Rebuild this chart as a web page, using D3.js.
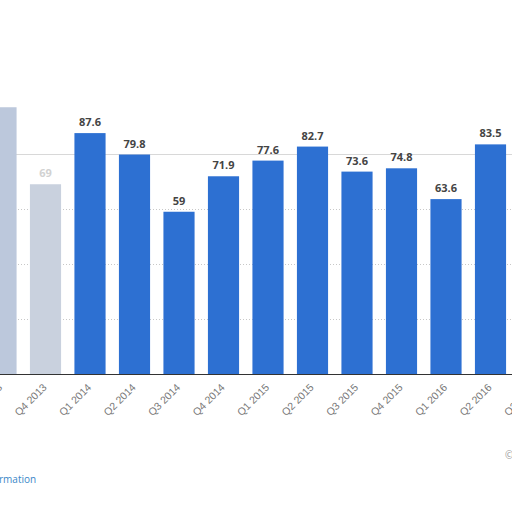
<!DOCTYPE html>
<html>
<head>
<meta charset="utf-8">
<script src="https://cdn.jsdelivr.net/npm/d3@7"></script>
<style>
  body { margin: 0; background: #fff; }
  svg { display: block; font-family: "Open Sans", "DejaVu Sans", sans-serif; }
</style>
</head>
<body>
<svg id="chart" width="512" height="512"></svg>
<script>
const quarters = ["Q3 2013", "Q4 2013", "Q1 2014", "Q2 2014", "Q3 2014", "Q4 2014",
                  "Q1 2015", "Q2 2015", "Q3 2015", "Q4 2015", "Q1 2016", "Q2 2016", "Q3 2016"]
const values   = [97, 69, 87.6, 79.8, 59, 71.9, 77.6, 82.7, 73.6, 74.8, 63.6, 83.5, null]
const gridTicks = [20, 40, 60, 80]

const baseY = 374
const step = 44.5

const svg = d3.select("#chart")

const x = d3.scaleBand()
            .domain(quarters)
            .range([-21.25, -21.25 + step * quarters.length])
            .paddingInner(0.3)
            .paddingOuter(0.15)

const y = d3.scaleLinear()
            .domain([0, 100])
            .range([baseY, baseY - 275])

// dotted grid
svg.append("g")
   .selectAll("line")
   .data(gridTicks)
   .enter()
   .append("line")
   .attr("x1", 0)
   .attr("x2", 512)
   .attr("y1", d => y(d) + 0.5)
   .attr("y2", d => y(d) + 0.5)
   .attr("stroke", d => d == 80 ? "#d8d8d8" : "#c8c8c8")
   .attr("stroke-dasharray", d => d == 80 ? null : "1,2")

const data = quarters.map((q, i) => ({q: q, v: values[i]})).filter(d => d.v != null)

// the first two bars look washed out in the picture
const faded = {"Q3 2013": "#bcc8dc", "Q4 2013": "#c9d1de"}

svg.selectAll("rect.bar")
   .data(data)
   .enter()
   .append("rect")
   .attr("class", "bar")
   .attr("x", d => x(d.q))
   .attr("y", d => y(d.v))
   .attr("width", x.bandwidth())
   .attr("height", d => baseY - y(d.v))
   .attr("fill", d => faded[d.q] || "#2d70d2")

svg.selectAll("text.val")
   .data(data)
   .enter()
   .append("text")
   .attr("class", "val")
   .attr("x", d => x(d.q) + x.bandwidth() / 2)
   .attr("y", d => y(d.v) - 7)
   .attr("text-anchor", "middle")
   .attr("font-size", 11)
   .attr("font-weight", "bold")
   .attr("fill", d => d.q == "Q4 2013" ? "#d2d2d2" : "#444")
   .text(d => d.q == "Q3 2013" ? "" : d.v)

// x axis
const xAxis = d3.axisBottom(x).tickSize(0).tickPadding(0)
const gx = svg.append("g")
              .attr("transform", "translate(0," + baseY + ")")
              .call(xAxis)
gx.select(".domain").attr("stroke", "#333").attr("d", "M0,0.5H512")
gx.selectAll("text")
  .attr("fill", "#777")
  .attr("font-size", 10.5)
  .attr("text-anchor", "end")
  .attr("dy", 0)
  .attr("transform", "translate(2,14) rotate(-45)")

svg.append("text")
   .attr("x", -1)
   .attr("y", 483)
   .attr("font-size", 10)
   .attr("fill", "#3a87c8")
   .text("Additional Information".slice(15))

svg.append("text")
   .attr("x", 505)
   .attr("y", 459)
   .attr("font-size", 10)
   .attr("fill", "#999")
   .text("©")
</script>
</body>
</html>
